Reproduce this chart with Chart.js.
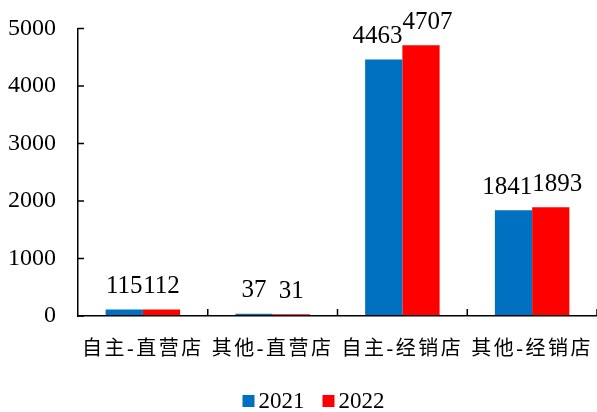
<!DOCTYPE html>
<html>
<head>
<meta charset="utf-8">
<script src="https://cdn.jsdelivr.net/npm/chart.js@4/dist/chart.umd.min.js"></script>
<style>
  html, body { margin: 0; padding: 0; background: #fff; }
  canvas { display: block; }
</style>
</head>
<body>
<canvas id="c" width="597" height="412"></canvas>
<script>
// Store counts by channel, 2021 vs 2022
const categories = ['自主-直营店', '其他-直营店', '自主-经销店', '其他-经销店'];
const seriesNames = ['2021', '2022'];
const values2021 = [115, 37, 4463, 1841];
const values2022 = [112, 31, 4707, 1893];
const yTicks = [0, 1000, 2000, 3000, 4000, 5000];
const seriesColors = ['#0070C0', '#FF0000'];

const SERIF = '"Liberation Serif", "Times New Roman", serif';
const CJK = '"Liberation Serif", "Noto Sans CJK SC", serif';

// Value labels above each bar; labels in one group are nudged apart if they collide
const valueLabels = {
  id: 'valueLabels',
  afterDatasetsDraw(chart) {
    const ctx = chart.ctx;
    ctx.save();
    ctx.letterSpacing = '0px';
    ctx.font = '25px ' + SERIF;
    ctx.fillStyle = '#000';
    ctx.textAlign = 'center';
    ctx.textBaseline = 'alphabetic';
    categories.forEach((_, i) => {
      const items = chart.data.datasets.map((ds, d) => {
        const bar = chart.getDatasetMeta(d).data[i];
        const text = String(ds.data[i]);
        return { cx: bar.x, y: bar.y, text, w: ctx.measureText(text).width };
      });
      for (let k = 1; k < items.length; k++) {
        const a = items[k - 1], b = items[k];
        const overlap = (a.cx + a.w / 2) - (b.cx - b.w / 2);
        if (overlap > 0) { a.cx -= overlap / 2; b.cx += overlap / 2; }
      }
      items.forEach(it => ctx.fillText(it.text, it.cx, it.y - 16.5));
    });
    ctx.restore();
    // wider character spacing for the category labels drawn next
    ctx.letterSpacing = '2.5px';
  }
};

// Inward tick marks on both axes, plus the legend row
const axisDecor = {
  id: 'axisDecor',
  afterDraw(chart) {
    const ctx = chart.ctx;
    ctx.letterSpacing = '0px';
    const xs = chart.scales.x, ys = chart.scales.y;
    ctx.save();
    ctx.strokeStyle = '#000';
    ctx.lineWidth = 1.5;
    ctx.beginPath();
    yTicks.forEach(v => {
      const py = ys.getPixelForValue(v);
      ctx.moveTo(xs.left, py);
      ctx.lineTo(xs.left + 6, py);
    });
    const cw = (xs.right - xs.left) / categories.length;
    for (let k = 1; k <= categories.length; k++) {
      const px = xs.left + k * cw;
      ctx.moveTo(px, ys.bottom);
      ctx.lineTo(px, ys.bottom - 7);
    }
    ctx.stroke();

    // legend
    ctx.font = '23px ' + SERIF;
    ctx.textBaseline = 'alphabetic';
    ctx.textAlign = 'left';
    const box = 12, gapText = 4, gapItem = 18;
    const widths = chart.data.datasets.map(ds => box + gapText + ctx.measureText(ds.label).width);
    const total = widths.reduce((s, w) => s + w, 0) + gapItem * (widths.length - 1);
    let x = chart.width / 2 + 15 - total / 2;
    const base = 408;
    chart.data.datasets.forEach((ds, d) => {
      ctx.fillStyle = ds.backgroundColor;
      ctx.fillRect(x, base - 13, box, box);
      ctx.fillStyle = '#000';
      ctx.fillText(ds.label, x + box + gapText, base);
      x += widths[d] + gapItem;
    });
    ctx.restore();
  }
};

new Chart(document.getElementById('c'), {
  type: 'bar',
  data: {
    labels: categories,
    datasets: [
      { label: seriesNames[0], data: values2021, backgroundColor: seriesColors[0], borderWidth: 0 },
      { label: seriesNames[1], data: values2022, backgroundColor: seriesColors[1], borderWidth: 0 }
    ]
  },
  options: {
    responsive: false,
    animation: false,
    devicePixelRatio: 1,
    layout: { padding: { top: 28.5, right: -1, bottom: 0, left: 0 } },
    categoryPercentage: 0.574,
    barPercentage: 1,
    plugins: {
      legend: { display: false },
      tooltip: { enabled: false }
    },
    scales: {
      x: {
        grid: { display: false, drawTicks: false },
        border: { display: true, color: '#000', width: 1.5, z: 1 },
        ticks: { color: '#000', font: { family: CJK, size: 20 }, padding: 22, z: 1, maxRotation: 0, autoSkip: false },
        afterFit(scale) {
          scale.height = 96;
          scale.paddingLeft = 0;
          scale.paddingRight = 0;
        }
      },
      y: {
        min: 0,
        max: 5000,
        grid: { display: false, drawTicks: false },
        border: { display: true, color: '#000', width: 1.5 },
        ticks: {
          color: '#000',
          font: { family: SERIF, size: 24 },
          padding: 22,
          stepSize: 1000,
          callback: v => String(v)
        },
        afterFit(scale) {
          scale.width = 78;
          scale.paddingTop = 0;
          scale.paddingBottom = 0;
        }
      }
    }
  },
  plugins: [valueLabels, axisDecor]
});
</script>
</body>
</html>
